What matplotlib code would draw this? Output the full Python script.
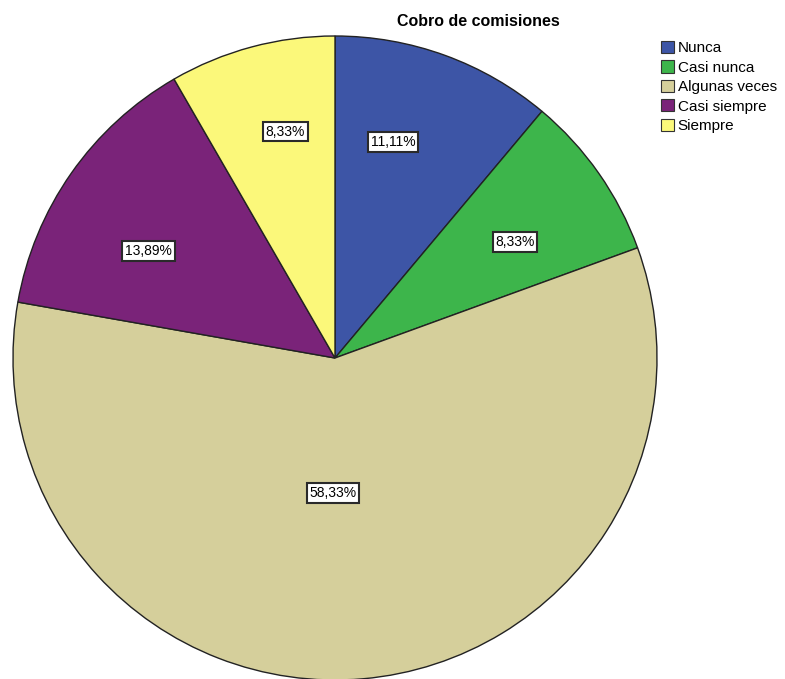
import numpy as np
import matplotlib

matplotlib.use('agg')
import matplotlib.pyplot as plt
from matplotlib.patches import Patch

categories = ['Nunca', 'Casi nunca', 'Algunas veces', 'Casi siempre', 'Siempre']
percents = [11.11, 8.33, 58.33, 13.89, 8.33]
colors = ['#3d55a6', '#3db54b', '#d5cf9b', '#7a2379', '#fbf87a']
# label placement: fraction of radius and small angular nudge (degrees)
label_radius = [0.695, 0.665, 0.42, 0.668, 0.72]
label_nudge = [5.0, -2.2, -5.8, 5.2, -2.6]

plt.rcParams['font.family'] = ['Liberation Sans', 'DejaVu Sans']

W, H = 785, 679
fig = plt.figure(figsize=(W / 100, H / 100), dpi=100)
ax = fig.add_axes([0, 0, 1, 1])

cx, cy, r = 335, H - 358, 322
wedges, _ = ax.pie(percents, colors=colors, startangle=90, counterclock=False,
                   center=(cx, cy), radius=r, frame=True,
                   wedgeprops=dict(edgecolor='#222222', linewidth=1.0))
ax.set_xlim(0, W)
ax.set_ylim(0, H)
ax.set_aspect('equal')
ax.axis('off')

for w, pct, lr, nd in zip(wedges, percents, label_radius, label_nudge):
    mid = np.deg2rad((w.theta1 + w.theta2) / 2 + nd)
    x = cx + lr * r * np.cos(mid)
    y = cy + lr * r * np.sin(mid)
    ax.text(x, y, f'{pct:.2f}%'.replace('.', ','), ha='center', va='center', fontsize=10,
            bbox=dict(boxstyle='square,pad=0.2', facecolor='white', edgecolor='#2a2a2a', linewidth=1.5))

ax.text(478, H - 21, 'Cobro de comisiones', ha='center', va='center', fontsize=11.5, fontweight='bold')

handles = [Patch(facecolor=c, edgecolor='#333333', linewidth=0.8) for c in colors]
fig.legend(handles, categories, loc='upper left', bbox_to_anchor=(661 / W, 1 - 41 / H),
           frameon=False, fontsize=11, handlelength=0.85, handleheight=0.85,
           handletextpad=0.25, labelspacing=0.33, borderaxespad=0, borderpad=0)

fig.savefig('out.png', dpi=100)
